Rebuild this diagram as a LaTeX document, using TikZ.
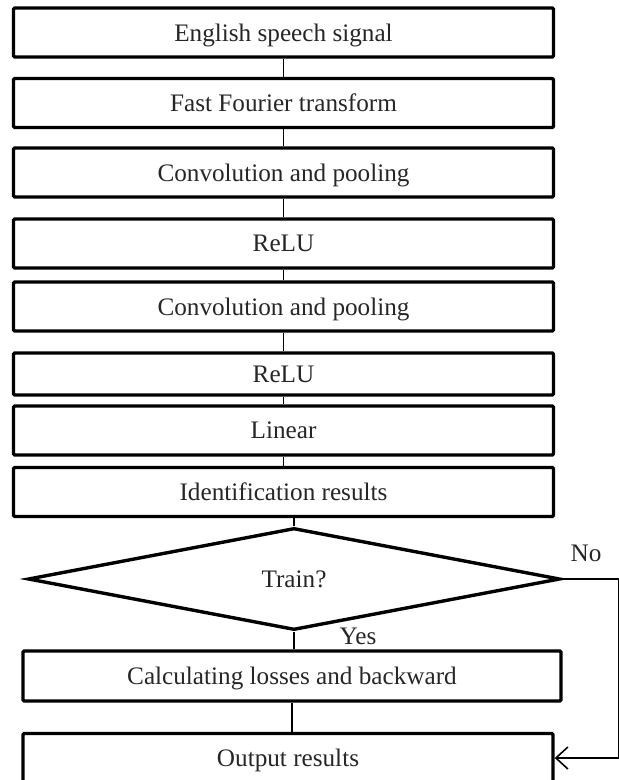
\documentclass[tikz,border=0pt]{standalone}
\usepackage{fontspec}
\setmainfont{Liberation Serif}
\usetikzlibrary{shapes.geometric,arrows.meta}
\begin{document}
\begin{tikzpicture}[x=0.5pt, y=-0.5pt,
    every node/.style={font=\fontsize{12.6}{14}\selectfont, text=black!85},
    stage/.style={rectangle, draw, line width=1.7pt, rounded corners=0.6pt, minimum width=270pt, minimum height=24.5pt, inner sep=0pt, text depth=-1pt},
    decide/.style={diamond, draw, line width=1.7pt, aspect=5.2, minimum width=266pt, minimum height=51pt, inner sep=0pt},
    link/.style={line width=0.6pt}]
    \useasboundingbox (0,0) rectangle (618,780);
    % Forward pass
    \node[stage] (sig) at (283.5,32.5) {English speech signal};
    \node[stage] (fft) at (283.5,103) {Fast Fourier transform};
    \node[stage] (convA) at (283.5,172.5) {Convolution and pooling};
    \node[stage] (reluA) at (283.5,243.5) {ReLU};
    \node[stage] (convB) at (283.5,306.5) {Convolution and pooling};
    \node[stage, minimum height=21pt] (reluB) at (283.5,374) {ReLU};
    \node[stage] (lin) at (283.5,430.5) {Linear};
    \node[stage] (idres) at (283.5,492) {Identification results};
    % Decision
    \node[decide] (train) at (294,579) {Train?};
    \node[stage, minimum width=269pt, minimum height=25pt] (calc) at (292,676) {Calculating losses and backward};
    \node[stage, minimum width=265pt] (out) at (288,758) {Output results};
    \node (no) at (586,553) {No};
    \node (yes) at (358,636) {Yes};
    % Connectors
    \draw[link] (sig.south) -- (fft.north);
    \draw[link] (fft.south) -- (convA.north);
    \draw[link] (convA.south) -- (reluA.north);
    \draw[link] (reluA.south) -- (convB.north);
    \draw[link] (convB.south) -- (reluB.north);
    \draw[link] (reluB.south) -- (lin.north);
    \draw[link] (lin.south) -- (idres.north);
    \draw[link] (idres.south -| train.north) -- (train.north);
    \draw[link] (train.south) -- (calc.north -| train.south);
    \draw[link] (calc.south) -- (out.north -| calc.south);
    \draw[link, -{Straight Barb[length=6pt, width=11pt, line width=0.8pt]}] (train.east) -- ++(57,0) |- (out.east);
\end{tikzpicture}
\end{document}
